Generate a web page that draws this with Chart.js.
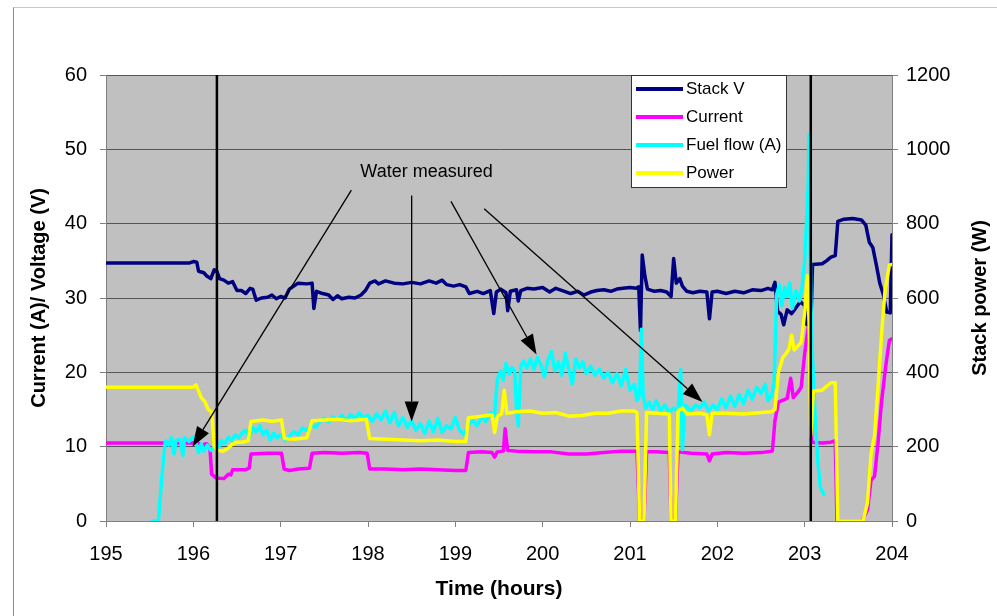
<!DOCTYPE html>
<html>
<head>
<meta charset="utf-8">
<script src="https://cdn.jsdelivr.net/npm/chart.js@4.4.0/dist/chart.umd.min.js"></script>
<style>
  html, body { margin: 0; padding: 0; background: #fff; }
  #wrap { position: relative; width: 997px; height: 616px; overflow: hidden; }
  #frame { position: absolute; left: 13px; top: 7px; right: -10px; bottom: -10px;
           border-top: 1px solid #c8c8c8; border-left: 1px solid #8c8c8c; pointer-events: none; }
  canvas { position: absolute; left: 0; top: 0; }
</style>
</head>
<body>
<div id="wrap">
  <canvas id="chart" width="997" height="616"></canvas>
  <div id="frame"></div>
</div>
<script>
// [time (h), volts]
const stackVolts = [
  [195.00,34.7],[195.95,34.7],[196.00,34.9],[196.04,34.8],[196.06,33.6],[196.12,33.4],[196.15,33.0],[196.20,32.6],
  [196.24,33.8],[196.27,33.6],[196.30,32.6],[196.35,32.4],[196.40,32.0],[196.45,32.2],[196.50,31.0],[196.55,31.0],
  [196.60,30.6],[196.65,31.3],[196.68,31.2],[196.72,29.7],[196.78,30.0],[196.85,30.1],[196.90,30.4],[196.95,29.9],
  [197.00,30.2],[197.05,30.0],[197.10,31.2],[197.15,31.6],[197.20,32.0],[197.30,31.9],[197.36,32.0],[197.38,28.6],
  [197.41,30.9],[197.48,30.6],[197.55,30.4],[197.60,29.8],[197.65,30.3],[197.70,29.9],[197.78,30.1],[197.85,30.0],
  [197.92,30.4],[197.97,31.0],[198.02,32.0],[198.08,32.3],[198.12,31.9],[198.20,32.3],[198.30,32.0],[198.40,31.9],
  [198.50,32.1],[198.60,31.9],[198.70,32.3],[198.78,32.0],[198.85,32.4],[198.90,31.8],[198.98,31.6],[199.05,31.8],
  [199.12,31.5],[199.16,30.6],[199.25,30.9],[199.32,30.6],[199.40,31.0],[199.44,27.9],[199.47,30.8],[199.52,31.2],
  [199.58,30.7],[199.60,28.3],[199.63,30.9],[199.70,31.1],[199.72,29.6],[199.75,31.0],[199.82,31.3],[199.90,31.2],
  [200.00,31.4],[200.08,30.8],[200.15,31.3],[200.25,30.9],[200.32,30.6],[200.40,30.9],[200.47,30.4],[200.55,30.8],
  [200.62,31.0],[200.70,31.1],[200.78,30.9],[200.85,31.2],[200.92,31.3],[201.00,31.4],[201.07,31.3],[201.10,31.5],
  [201.12,25.6],[201.14,35.8],[201.17,33.0],[201.20,31.2],[201.28,30.9],[201.35,31.0],[201.42,30.8],[201.47,30.2],
  [201.50,35.3],[201.53,32.0],[201.57,32.6],[201.60,31.6],[201.65,30.9],[201.72,30.7],[201.80,30.9],[201.88,30.8],
  [201.91,27.2],[201.94,30.8],[202.00,30.9],[202.10,30.6],[202.20,30.9],[202.30,30.7],[202.40,31.1],[202.50,31.0],
  [202.58,31.3],[202.63,31.1],[202.66,32.1],[202.69,28.2],[202.73,27.8],[202.76,26.4],[202.80,28.4],[202.85,27.9],
  [202.90,28.7],[202.95,29.5],[203.00,29.0],[203.02,26.5],[203.07,26.0],[203.09,34.5],[203.20,34.6],[203.25,35.0],
  [203.30,35.5],[203.35,35.7],[203.38,40.3],[203.45,40.6],[203.55,40.7],[203.65,40.5],[203.70,39.8],[203.74,37.5],
  [203.78,36.8],[203.82,34.5],[203.86,32.0],[203.90,30.5],[203.94,28.1],[203.98,28.0],[204.00,38.5]
];

// [time (h), amps]
const currentAmps = [
  [195.00,10.5],[196.00,10.5],[196.05,10.5],[196.10,10.2],[196.15,10.4],[196.19,9.8],[196.21,6.3],[196.26,5.8],
  [196.35,5.7],[196.40,6.3],[196.43,6.2],[196.45,6.9],[196.60,6.9],[196.64,7.1],[196.66,9.0],[196.85,9.1],
  [197.01,9.1],[197.04,7.0],[197.10,6.8],[197.20,7.0],[197.33,7.1],[197.36,9.1],[197.50,9.2],[197.70,9.1],
  [197.90,9.2],[197.99,9.1],[198.02,7.0],[198.20,7.0],[198.40,6.9],[198.60,7.0],[198.80,6.9],[199.00,6.8],
  [199.12,6.8],[199.15,9.2],[199.30,9.3],[199.42,9.2],[199.45,8.6],[199.48,9.3],[199.55,9.4],[199.57,12.4],
  [199.60,9.5],[199.70,9.4],[199.90,9.3],[200.10,9.3],[200.30,9.0],[200.50,9.0],[200.70,9.2],[200.90,9.4],
  [201.08,9.4],[201.11,0],[201.16,0],[201.19,9.3],[201.30,9.3],[201.45,9.2],[201.47,0],[201.52,0],
  [201.55,9.3],[201.70,9.1],[201.88,9.0],[201.91,8.1],[201.94,9.0],[202.10,9.2],[202.30,9.1],[202.50,9.2],
  [202.63,9.4],[202.66,13.5],[202.70,16.0],[202.80,16.5],[202.84,19.2],[202.87,16.6],[202.92,17.3],[202.96,18.0],
  [203.00,22.5],[203.04,26.0],[203.06,25.5],[203.08,10.6],[203.20,10.5],[203.30,10.6],[203.35,10.8],[203.37,0],
  [203.66,0],[203.72,1.5],[203.76,5.5],[203.80,6.0],[203.84,10.5],[203.88,16.0],[203.93,21.0],[203.97,24.3],
  [204.00,24.5]
];

// [time (h), amps equivalent]
const fuelFlow = [
  [195.53,0],[195.60,0],[195.62,3],[195.64,6],[195.66,8.5],[195.68,10.8],[195.72,10.2],[195.75,11.2],
  [195.78,9.0],[195.80,10.8],[195.85,11.0],[195.88,8.8],[195.90,11.2],[195.95,10.7],[196.00,11.3],[196.03,10.6],
  [196.06,9.2],[196.09,10.4],[196.12,9.4],[196.16,10.2],[196.20,9.5],[196.24,10.0],[196.28,9.6],[196.32,10.8],
  [196.36,10.4],[196.40,11.3],[196.44,10.8],[196.48,11.6],[196.52,11.2],[196.56,11.9],[196.60,12.2],[196.64,11.2],
  [196.68,12.6],[196.72,12.0],[196.76,12.8],[196.80,11.6],[196.84,12.2],[196.88,10.9],[196.92,11.8],[196.96,11.2],
  [197.00,11.6],[197.05,10.8],[197.10,11.4],[197.15,12.0],[197.20,11.6],[197.25,12.5],[197.30,12.2],[197.35,13.0],
  [197.40,12.6],[197.45,13.4],[197.50,13.8],[197.55,13.3],[197.60,14.0],[197.65,13.6],[197.70,14.2],[197.75,13.5],
  [197.80,14.3],[197.85,13.8],[197.90,14.5],[197.95,13.9],[198.00,14.2],[198.05,13.4],[198.10,14.4],[198.15,13.6],
  [198.20,14.8],[198.25,13.2],[198.30,14.6],[198.35,12.8],[198.40,13.9],[198.45,12.6],[198.50,13.5],[198.55,12.2],
  [198.60,13.1],[198.65,11.8],[198.70,13.4],[198.75,12.0],[198.80,13.8],[198.85,11.9],[198.90,12.8],[198.95,12.4],
  [199.00,13.9],[199.05,12.2],[199.10,11.6],[199.15,12.9],[199.20,13.5],[199.25,12.8],[199.30,14.0],[199.35,13.4],
  [199.40,14.6],[199.45,14.2],[199.48,19.0],[199.52,20.2],[199.55,19.0],[199.58,21.2],[199.62,19.8],[199.65,20.6],
  [199.68,20.2],[199.70,15.0],[199.72,12.8],[199.75,20.8],[199.78,21.5],[199.82,20.6],[199.86,21.8],[199.90,20.4],
  [199.94,22.0],[199.98,21.0],[200.02,19.4],[200.06,21.6],[200.10,22.8],[200.14,20.2],[200.18,21.4],[200.22,19.6],
  [200.26,22.6],[200.30,20.4],[200.34,18.4],[200.38,21.8],[200.42,20.6],[200.46,21.4],[200.50,19.8],[200.55,20.8],
  [200.60,19.6],[200.65,20.4],[200.70,19.2],[200.75,20.0],[200.80,18.6],[200.85,19.8],[200.90,18.2],[200.95,20.4],
  [201.00,17.6],[201.05,18.4],[201.08,16.2],[201.11,17.0],[201.13,25.8],[201.15,17.0],[201.18,15.2],[201.22,16.0],
  [201.26,15.0],[201.30,16.2],[201.35,14.8],[201.40,15.6],[201.45,14.6],[201.50,15.2],[201.55,14.8],[201.58,20.4],
  [201.60,9.6],[201.63,15.6],[201.70,14.8],[201.75,15.6],[201.80,15.2],[201.85,16.0],[201.90,14.8],[201.95,15.6],
  [202.00,15.0],[202.05,16.4],[202.10,15.2],[202.15,16.8],[202.20,15.4],[202.25,17.0],[202.30,15.8],[202.35,17.6],
  [202.40,16.4],[202.45,18.0],[202.50,17.2],[202.55,18.4],[202.58,16.2],[202.62,16.8],[202.65,18.5],[202.68,30.5],
  [202.71,31.8],[202.74,29.0],[202.77,31.4],[202.80,30.2],[202.83,32.0],[202.86,28.6],[202.90,31.0],[202.94,29.6],
  [202.97,31.5],[203.00,35.0],[203.02,40.0],[203.04,45.0],[203.05,52.0],[203.07,30.0],[203.09,22.0],[203.12,14.0],
  [203.15,8.0],[203.18,4.5],[203.22,3.6]
];

// [time (h), watts]
const stackPower = [
  [195.00,360],[196.00,360],[196.03,366],[196.06,350],[196.09,332],[196.13,322],[196.17,300],[196.21,294],
  [196.24,200],[196.28,190],[196.34,188],[196.40,196],[196.44,206],[196.50,212],[196.56,212],[196.63,216],
  [196.66,268],[196.80,272],[196.90,268],[197.01,272],[197.04,222],[197.15,220],[197.30,224],[197.36,270],
  [197.50,272],[197.65,274],[197.80,270],[197.98,274],[198.02,222],[198.20,220],[198.40,218],[198.60,216],
  [198.80,218],[199.00,214],[199.12,214],[199.15,278],[199.30,282],[199.42,286],[199.45,238],[199.48,282],
  [199.53,288],[199.56,352],[199.59,290],[199.70,294],[199.85,296],[200.00,290],[200.15,292],[200.30,282],
  [200.45,284],[200.60,290],[200.75,290],[200.90,296],[201.05,296],[201.08,292],[201.11,0],[201.16,0],
  [201.19,292],[201.30,290],[201.45,288],[201.47,0],[201.52,0],[201.55,296],[201.60,304],[201.65,288],
  [201.80,290],[201.88,286],[201.91,232],[201.94,290],[202.10,290],[202.30,288],[202.50,292],[202.62,294],
  [202.66,300],[202.70,400],[202.75,440],[202.78,448],[202.82,462],[202.85,500],[202.88,460],[202.92,470],
  [202.96,480],[203.00,560],[203.03,660],[203.05,540],[203.07,230],[203.10,350],[203.20,352],[203.30,372],
  [203.35,372],[203.38,0],[203.67,0],[203.72,50],[203.76,180],[203.80,230],[203.84,360],[203.88,500],
  [203.92,620],[203.97,688],[204.00,690]
];

const markerTimes = [196.27, 203.07];

// "Water measured" note, in axis units
const noteText  = 'Water measured';
const notePos   = [198.67, 47.0];
const arrowFrom = [[197.81, 44.5], [198.50, 43.8], [198.95, 43.0], [199.33, 42.0]];
const arrowTo   = [[195.99, 10.0], [198.50, 13.4], [199.93, 22.4], [201.83, 16.0]];

const FONT = 'Arial, "Liberation Sans", sans-serif';
Chart.defaults.font.family = FONT;
Chart.defaults.color = '#000';

function pts(list) {
  return list.map(([x, y]) => ({ x, y }));
}

function series(label, list, color, axis, order) {
  return {
    label, data: pts(list), yAxisID: axis, order,
    borderColor: color, backgroundColor: color, borderWidth: 3.5,
    pointRadius: 0, tension: 0, borderJoinStyle: 'round', borderCapStyle: 'round'
  };
}

const datasets = [
  series('Stack V', stackVolts, '#000080', 'y', 4),
  series('Current', currentAmps, '#ff00ff', 'y', 3),
  series('Fuel flow (A)', fuelFlow, '#00ffff', 'y', 2),
  series('Power', stackPower, '#ffff00', 'y2', 1),
  ...markerTimes.map(t => ({
    label: '', isMarker: true, data: [{ x: t, y: 0 }, { x: t, y: 60 }], yAxisID: 'y', order: 0,
    borderColor: '#000', borderWidth: 2.5, pointRadius: 0
  }))
];

// Plot background
const plotBg = {
  id: 'plotBg',
  beforeDraw(chart) {
    const { ctx, chartArea: ca } = chart;
    ctx.save();
    ctx.fillStyle = '#c0c0c0';
    ctx.fillRect(ca.left, ca.top, ca.right - ca.left, ca.bottom - ca.top);
    ctx.restore();
  }
};

function arrow(ctx, x1, y1, x2, y2) {
  const a = Math.atan2(y2 - y1, x2 - x1);
  const len = 20, half = 7;
  const bx = x2 - len * Math.cos(a), by = y2 - len * Math.sin(a);
  ctx.beginPath(); ctx.moveTo(x1, y1); ctx.lineTo(bx, by); ctx.stroke();
  ctx.beginPath();
  ctx.moveTo(x2, y2);
  ctx.lineTo(bx + half * Math.sin(a), by - half * Math.cos(a));
  ctx.lineTo(bx - half * Math.sin(a), by + half * Math.cos(a));
  ctx.closePath(); ctx.fill();
}

// Annotation + arrows
const notes = {
  id: 'notes',
  afterDatasetsDraw(chart) {
    const { ctx, scales: { x, y } } = chart;
    ctx.save();
    ctx.strokeStyle = '#000'; ctx.fillStyle = '#000'; ctx.lineWidth = 1.3;
    arrowFrom.forEach((p, i) => {
      const q = arrowTo[i];
      arrow(ctx, x.getPixelForValue(p[0]), y.getPixelForValue(p[1]),
                 x.getPixelForValue(q[0]), y.getPixelForValue(q[1]));
    });
    ctx.font = '18px ' + FONT;
    ctx.textAlign = 'center'; ctx.textBaseline = 'middle';
    ctx.fillText(noteText, x.getPixelForValue(notePos[0]), y.getPixelForValue(notePos[1]));
    ctx.restore();
  }
};

// Legend box inside the plot, right axis title reading bottom-up
const legendBox = {
  id: 'legendBox',
  afterDraw(chart) {
    const { ctx, chartArea: ca } = chart;
    const bx = ca.left + 525, by = ca.top, w = 155, h = 112;
    ctx.save();
    ctx.fillStyle = '#fff';
    ctx.fillRect(bx, by, w, h);
    ctx.strokeStyle = '#333'; ctx.lineWidth = 1;
    ctx.strokeRect(bx + 0.5, by + 0.5, w, h);
    ctx.font = '17px ' + FONT;
    ctx.textBaseline = 'middle';
    chart.data.datasets.filter(d => !d.isMarker).forEach((d, i) => {
      const ry = by + 14 + i * 28;
      ctx.strokeStyle = d.borderColor; ctx.lineWidth = 4;
      ctx.beginPath(); ctx.moveTo(bx + 5, ry); ctx.lineTo(bx + 52, ry); ctx.stroke();
      ctx.fillStyle = '#000';
      ctx.fillText(d.label, bx + 55, ry);
    });

    const r = chart.scales.y2;
    ctx.translate(r.right - 16, (ca.top + ca.bottom) / 2);
    ctx.rotate(-Math.PI / 2);
    ctx.font = 'bold 20px ' + FONT;
    ctx.textAlign = 'center';
    ctx.fillStyle = '#000';
    ctx.fillText('Stack power (W)', 0, 0);
    ctx.restore();
  }
};

new Chart(document.getElementById('chart'), {
  type: 'line',
  data: { datasets },
  plugins: [plotBg, notes, legendBox],
  options: {
    responsive: false,
    animation: false,
    events: [],
    layout: { padding: { left: 23, right: 1, top: 75, bottom: 10 } },
    plugins: { legend: { display: false }, tooltip: { enabled: false } },
    scales: {
      x: {
        type: 'linear', min: 195, max: 204,
        ticks: { stepSize: 1, padding: 15, font: { size: 20 }, callback: v => String(v) },
        grid: { drawOnChartArea: false, tickLength: 6, tickColor: '#808080' },
        border: { color: '#808080' },
        title: { display: true, text: 'Time (hours)', font: { size: 21, weight: 'bold' } },
        afterFit(s) { s.height = 85; }
      },
      y: {
        position: 'left', min: 0, max: 60,
        ticks: { stepSize: 10, padding: 13, font: { size: 20 }, callback: v => String(v) },
        grid: { color: '#555', tickLength: 6, tickColor: '#808080' },
        border: { color: '#808080' },
        title: { display: true, text: 'Current (A)/ Voltage (V)', font: { size: 20, weight: 'bold' } },
        afterFit(s) { s.width = 83; }
      },
      y2: {
        position: 'right', min: 0, max: 1200,
        ticks: { stepSize: 200, padding: 8, font: { size: 20 }, callback: v => String(v) },
        grid: { drawOnChartArea: false, tickLength: 6, tickColor: '#808080' },
        border: { color: '#808080' },
        afterFit(s) { s.width = 104; }
      }
    }
  }
});
</script>
</body>
</html>
